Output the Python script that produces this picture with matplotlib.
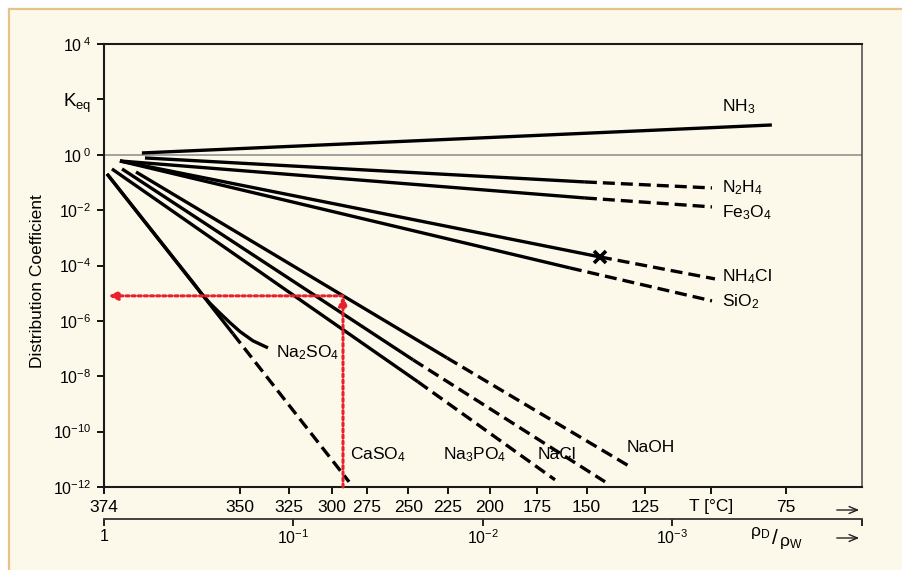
import matplotlib.pyplot as plt
from matplotlib.patches import Rectangle
from matplotlib.ticker import NullLocator

plt.rcParams['font.family'] = ['Liberation Sans', 'DejaVu Sans']
plt.rcParams['mathtext.fontset'] = 'custom'
plt.rcParams['mathtext.rm'] = 'Liberation Sans'
plt.rcParams['mathtext.it'] = 'Liberation Sans:italic'
plt.rcParams['mathtext.bf'] = 'Liberation Sans:bold'

# temperature scale and the steam/water density ratio rho_D/rho_W at each temperature
temps = [374, 350, 325, 300, 275, 250, 225, 200, 175, 150, 125, 100, 75]
temp_ratio = [1.0, 0.192, 0.106, 0.063, 0.041, 0.0248, 0.0153, 0.0092, 0.0052,
              0.00284, 0.00139, 0.000624, 0.000251]
temp_labels = ['374', '350', '325', '300', '275', '250', '225', '200', '175',
               '150', '125', 'T [°C]', '75']

ratio_ticks = [1, 1e-1, 1e-2, 1e-3, 1e-4]
ratio_labels = ['1', r'$10^{-1}$', r'$10^{-2}$', r'$10^{-3}$', '']

k_ticks = [1e4, 1e2, 1, 1e-2, 1e-4, 1e-6, 1e-8, 1e-10, 1e-12]
k_labels = [r'$10^{\;4}$', r'K$_{\mathrm{eq}}$', r'$10^{\;0}$', r'$10^{-2}$', r'$10^{-4}$',
            r'$10^{-6}$', r'$10^{-8}$', r'$10^{-10}$', r'$10^{-12}$']

# distribution coefficient curves (x = rho_D/rho_W, k = K_eq)
nh3_x = [0.631, 2.99e-4]
nh3_k = [1.16, 11.9]
n2h4_x = [0.608, 2.90e-3, 6.19e-4]
n2h4_k = [0.766, 0.1042, 0.0632]
fe3o4_x = [0.824, 2.90e-3, 6.19e-4]
fe3o4_k = [0.597, 0.0275, 0.01306]
nh4cl_x = [0.824, 2.415e-3, 5.97e-4]
nh4cl_k = [0.597, 2.04e-4, 3.28e-5]
sio2_x = [0.824, 3.48e-3, 6.19e-4]
sio2_k = [0.597, 8.18e-5, 5.27e-6]
caso4_x = [0.964, 0.2084, 0.0509]
caso4_k = [0.203, 3.40e-7, 1.54e-12]
na2so4_x = [0.964, 0.335, 0.305, 0.2758, 0.2443, 0.2163, 0.1915, 0.1636, 0.1364]
na2so4_k = [0.203, 2.2e-5, 9.5e-6, 4.3e-6, 1.9e-6, 8.6e-7, 4.1e-7, 1.90e-7, 1.06e-7]
na3po4_x = [0.908, 0.02203, 4.17e-3]
na3po4_k = [0.307, 6.28e-9, 1.82e-12]
nacl_x = [0.803, 0.02339, 2.27e-3]
nacl_k = [0.307, 3.91e-8, 1.54e-12]
naoh_x = [0.678, 0.01549, 1.637e-3]
naoh_k = [0.239, 4.61e-8, 4.93e-12]

# example reading: NaOH at 290 degC
read_x = 0.0548
read_k = 8.0e-6

cream = '#FDF9EA'
red = '#E8202E'

fig = plt.figure(figsize=(9.03, 5.70), dpi=100)
fig.patch.set_facecolor('white')
fig.add_artist(Rectangle((9 / 903, -0.05), 1.1, 561 / 570 + 0.05, transform=fig.transFigure,
                         facecolor=cream, edgecolor='#E6C387', lw=1.6, zorder=-1))

ax = fig.add_axes([104 / 903, 1 - 487 / 570, 758 / 903, 443 / 570])
ax.set_facecolor('none')
ax.set_xscale('log')
ax.set_yscale('log')
ax.set_xlim(1, 1e-4)
ax.set_ylim(1e-12, 1e4)

lw = 2.4
dash = (0, (3.6, 1.8))
curves = [(nh3_x, nh3_k, 2), (n2h4_x, n2h4_k, 2), (fe3o4_x, fe3o4_k, 2),
          (nh4cl_x, nh4cl_k, 2), (sio2_x, sio2_k, 2), (caso4_x, caso4_k, 2),
          (na2so4_x, na2so4_k, 9), (na3po4_x, na3po4_k, 2), (nacl_x, nacl_k, 2),
          (naoh_x, naoh_k, 2)]
for xs, ks, n in curves:
    ax.plot(xs[:n], ks[:n], color='black', lw=lw, solid_capstyle='butt', zorder=3)
    if n < len(xs):
        ax.plot(xs[n - 1:], ks[n - 1:], color='black', lw=lw, ls=dash, zorder=3)

ax.plot(nh4cl_x[1], nh4cl_k[1], marker='x', color='black', ms=9, mew=2.6, zorder=4)

ax.axhline(1, color='#8a8a8a', lw=1.1, zorder=2)

# red reading arrows
arrow = dict(arrowstyle='-|>,head_length=0.55,head_width=0.25', color=red, lw=2.2,
             ls=(0, (1, 1)), shrinkA=0, shrinkB=0)
ax.annotate('', xy=(read_x, read_k), xytext=(read_x, 1e-12), arrowprops=arrow, zorder=5)
ax.annotate('', xy=(0.953, read_k), xytext=(read_x, read_k), arrowprops=arrow, zorder=5)

# labels
fs = 12.5
ax.text(5.48e-4, 53, r'NH$_3$', fontsize=fs, va='center')
ax.text(5.48e-4, 0.0632, r'N$_2$H$_4$', fontsize=fs, va='center')
ax.text(5.48e-4, 7.9e-3, r'Fe$_3$O$_4$', fontsize=fs, va='center')
ax.text(5.48e-4, 3.9e-5, r'NH$_4$Cl', fontsize=fs, va='center')
ax.text(5.48e-4, 4.9e-6, r'SiO$_2$', fontsize=fs, va='center')
ax.text(0.1237, 7.0e-8, r'Na$_2$SO$_4$', fontsize=fs, va='center')
ax.text(0.0503, 1.45e-11, r'CaSO$_4$', fontsize=fs, va='center')
ax.text(0.01626, 1.45e-11, r'Na$_3$PO$_4$', fontsize=fs, va='center')
ax.text(5.13e-3, 1.45e-11, 'NaCl', fontsize=fs, va='center')
ax.text(1.74e-3, 2.6e-11, 'NaOH', fontsize=fs, va='center')

ax.set_xticks(temp_ratio)
ax.set_xticklabels(temp_labels, fontsize=12.5)
ax.xaxis.set_minor_locator(NullLocator())
ax.set_yticks(k_ticks)
ax.set_yticklabels(k_labels, fontsize=11.5)
ax.get_yticklabels()[1].set_fontsize(13.5)
ax.yaxis.set_minor_locator(NullLocator())
ax.tick_params(axis='x', direction='out', length=5, width=1.3, pad=4)
ax.tick_params(axis='y', direction='out', length=5, width=1.3, pad=4)
for side in ['left', 'bottom', 'top']:
    ax.spines[side].set_linewidth(1.5)
    ax.spines[side].set_color('#1a1a1a')
ax.spines['right'].set_linewidth(1.2)
ax.spines['right'].set_color('#555555')

# second scale: density ratio
ax2 = ax.twiny()
ax2.set_xscale('log')
ax2.set_xlim(1, 1e-4)
ax2.xaxis.set_ticks_position('bottom')
ax2.spines['bottom'].set_position(('outward', 23))
for side in ['left', 'right', 'top']:
    ax2.spines[side].set_visible(False)
ax2.spines['bottom'].set_linewidth(1.3)
ax2.spines['bottom'].set_color('#333333')
ax2.set_xticks(ratio_ticks)
ax2.set_xticklabels(ratio_labels, fontsize=11.5)
ax2.xaxis.set_minor_locator(NullLocator())
ax2.tick_params(axis='x', direction='out', length=5, width=1.2, pad=2)

fig.text(38 / 903, 1 - 281 / 570, 'Distribution Coefficient', rotation=90,
         fontsize=12.5, ha='center', va='center')

# scale arrows and rho label
for yp in [510, 538]:
    ax.annotate('', xy=(862, 570 - yp), xytext=(834, 570 - yp), xycoords='figure pixels',
                textcoords='figure pixels',
                arrowprops=dict(arrowstyle='->,head_length=0.6,head_width=0.25', lw=1.0,
                                color='#222222'))
fig.text(750 / 903, 1 - 533 / 570, r'ρ$_{\mathrm{D}}$', fontsize=12.5, ha='left', va='center')
fig.text(772 / 903, 1 - 539 / 570, '/', fontsize=15, ha='left', va='center')
fig.text(779 / 903, 1 - 543 / 570, r'ρ$_{\mathrm{W}}$', fontsize=12.5, ha='left', va='center')

fig.savefig('out.png', dpi=100)
